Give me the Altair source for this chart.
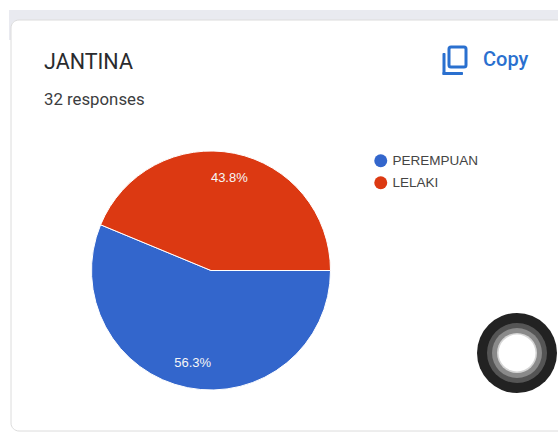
import math
import altair as alt
import pandas as pd

# Form response summary
categories = ["PEREMPUAN", "LELAKI"]
responses = [18, 14]
total_responses = sum(responses)
slice_colors = ["#3366cc", "#dc3912"]
question_title = "JANTINA"
response_note = f"{total_responses} responses"
copy_label = "Copy"

W, H = 558, 432
CX, CY, R = 211, 270.5, 119.5

pie_data = pd.DataFrame({
    "category": categories,
    "responses": responses,
    "share": [v / total_responses for v in responses],
    "rank": list(range(len(categories))),
})


def panel(x, x2, y, y2, fill, **kw):
    """A fixed rectangle of the surrounding card furniture."""
    return alt.Chart(alt.Data(values=[{}])).mark_rect(fill=fill, **kw).encode(
        x=alt.value(x), x2=alt.value(x2), y=alt.value(y), y2=alt.value(y2)
    )


def caption(text, x, y, size, color, font="Roboto", **kw):
    return alt.Chart(alt.Data(values=[{}])).mark_text(
        text=text, font=font, fontSize=size, color=color, align="left", baseline="middle", **kw
    ).encode(x=alt.value(x), y=alt.value(y))


def disc(x, y, radius, fill):
    return alt.Chart(alt.Data(values=[{}])).mark_circle(
        size=(2 * radius) ** 2, fill=fill, opacity=1
    ).encode(x=alt.value(x), y=alt.value(y))


# Page band and card
band = panel(9, 570, 10, 40, "#e9eaf0")
card = panel(11, 620, 20, 431, "#ffffff", stroke="#dcdcdc", strokeWidth=1, cornerRadius=8)

# Copy icon: two overlapping rounded outlines
BLUE = "#2a70cf"
icon_back_v = panel(442.5, 445.5, 53, 75, BLUE, cornerRadius=1)
icon_back_h = panel(442.5, 463, 72, 75, BLUE, cornerRadius=1)
icon_front = alt.Chart(alt.Data(values=[{}])).mark_rect(
    fill="#ffffff", stroke=BLUE, strokeWidth=3, cornerRadius=2
).encode(x=alt.value(449), x2=alt.value(466), y=alt.value(47), y2=alt.value(67))

theta = alt.Theta(
    "responses:Q",
    stack=True,
    scale=alt.Scale(range=[math.pi / 2, math.pi / 2 + 2 * math.pi]),
)
order = alt.Order("rank:O")

slices = alt.Chart(pie_data).mark_arc(
    outerRadius=R, stroke="#ffffff", strokeWidth=1
).encode(
    theta=theta,
    order=order,
    x=alt.value(CX),
    y=alt.value(CY),
    color=alt.Color(
        "category:N",
        sort=categories,
        scale=alt.Scale(domain=categories, range=slice_colors),
        legend=alt.Legend(
            title=None,
            orient="none",
            legendX=374,
            legendY=154,
            symbolType="circle",
            symbolSize=169,
            symbolStrokeWidth=0,
            labelFont="Liberation Sans",
            labelFontSize=13.5,
            labelColor="#444444",
            labelOffset=5,
            rowPadding=7,
            padding=0,
        ),
    ),
)

percent_labels = alt.Chart(pie_data).mark_text(
    radius=94, font="Liberation Sans", fontSize=13, color="#f6f6f6"
).encode(
    theta=theta,
    order=order,
    x=alt.value(CX),
    y=alt.value(CY),
    detail="category:N",
    text=alt.Text("share:Q", format=".1%"),
)

chart = alt.layer(
    band,
    card,
    caption(question_title, 44, 62.5, 21.5, "#2a2b2e"),
    caption(response_note, 44, 99.5, 16.8, "#3c3d40"),
    icon_back_v,
    icon_back_h,
    icon_front,
    caption(copy_label, 483, 59.5, 20, BLUE, fontWeight=500),
    slices,
    percent_labels,
    disc(517, 353, 40, "#222222"),
    disc(517, 353, 30, "#555555"),
    disc(517, 353, 25, "#8a8a8a"),
    disc(517, 353, 20, "#d5d5d5"),
    disc(517, 353, 18.5, "#ffffff"),
).properties(
    width=W,
    height=H,
    padding=0,
    background="#ffffff",
    autosize=alt.AutoSizeParams(type="none"),
).configure_view(stroke=None)

chart.save("out.html", embed_options={"renderer": "svg", "actions": False})
